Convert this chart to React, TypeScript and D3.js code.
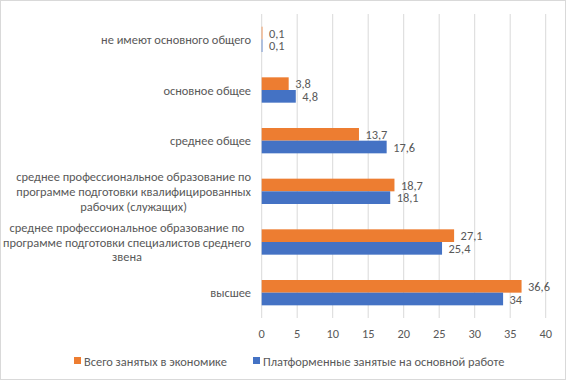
import React from "react";
import * as d3 from "d3";

const categories: string[][] = [
  ["не имеют основного общего"],
  ["основное общее"],
  ["среднее общее"],
  ["среднее профессиональное образование по", "программе подготовки квалифицированных", "рабочих (служащих)"],
  ["среднее профессиональное образование по", "программе подготовки специалистов среднего", "звена"],
  ["высшее"],
];
const seriesNames = ["Всего занятых в экономике", "Платформенные занятые на основной работе"];
const totalValues = [0.1, 3.8, 13.7, 18.7, 27.1, 36.6];
const platformValues = [0.1, 4.8, 17.6, 18.1, 25.4, 34];
const tickValues = [0, 5, 10, 15, 20, 25, 30, 35, 40];
const colors = ["#ED7D31", "#4472C4"];

const W = 566;
const H = 380;
const FONT = "Calibri, Carlito, 'Liberation Sans', Arial, sans-serif";
const TEXT = "#595959";
const FS = 12.4;

export default function App() {
  const left = 261.7;
  const right = 545.7;
  const top = 14;
  const bottom = 318;
  const x = d3.scaleLinear().domain([0, 40]).range([left, right]);
  const y = d3.scaleBand<number>().domain(d3.range(categories.length)).range([top, bottom]).paddingInner(0.5).paddingOuter(0.25);
  const sub = d3.scaleBand<number>().domain([0, 1]).range([0, y.bandwidth()]);
  const series = [totalValues, platformValues];
  const fmt = (v: number) => String(v).replace(".", ",");

  return (
    <div style={{ position: "fixed", left: 0, top: 0 }}>
      <svg width={W} height={H} style={{ display: "block", fontFamily: FONT }}>
        <rect x={0.5} y={0.5} width={W - 1} height={H - 1} fill="#fff" stroke="#d9d9d9" />
        {tickValues.map((t) => (
          <g key={t}>
            <line x1={x(t)} x2={x(t)} y1={top} y2={bottom} stroke="#d9d9d9" strokeWidth={1} />
            <text x={x(t)} y={333} textAnchor="middle" dominantBaseline="central" fontSize={FS} fill={TEXT}>
              {t}
            </text>
          </g>
        ))}
        {categories.map((lines, i) => {
          const cy = (y(i) as number) + y.bandwidth() / 2;
          return (
            <g key={i}>
              {series.map((vals, s) => (
                <g key={s}>
                  <rect
                    x={x(0)}
                    y={(y(i) as number) + (sub(s) as number)}
                    width={x(vals[i]) - x(0)}
                    height={sub.bandwidth()}
                    fill={colors[s]}
                  />
                  <text
                    x={x(vals[i]) + 6.5}
                    y={(y(i) as number) + (sub(s) as number) + sub.bandwidth() / 2}
                    dominantBaseline="central"
                    fontSize={FS}
                    fill={TEXT}
                  >
                    {fmt(vals[i])}
                  </text>
                </g>
              ))}
              <CatLabel lines={lines} cy={cy} lh={14.7} />
            </g>
          );
        })}
        <rect x={74} y={357} width={7} height={7} fill={colors[0]} />
        <text x={84} y={361} dominantBaseline="central" fontSize={FS} fill={TEXT}>
          {seriesNames[0]}
        </text>
        <rect x={253} y={357} width={7} height={7} fill={colors[1]} />
        <text x={263} y={361} dominantBaseline="central" fontSize={FS} fill={TEXT}>
          {seriesNames[1]}
        </text>
      </svg>
    </div>
  );
}

function CatLabel({ lines, cy, lh }: { lines: string[]; cy: number; lh: number }) {
  const ref = React.useRef<SVGGElement>(null);
  const [center, setCenter] = React.useState<number | null>(null);
  React.useLayoutEffect(() => {
    const measure = () => {
      if (!ref.current) return;
      const texts = Array.from(ref.current.querySelectorAll("text")) as SVGTextElement[];
      const maxW = Math.max(...texts.map((t) => t.getComputedTextLength()));
      setCenter(251 - maxW / 2);
    };
    measure();
    if ((document as any).fonts && (document as any).fonts.ready) {
      (document as any).fonts.ready.then(measure);
    }
  }, []);
  const n = lines.length;
  return (
    <g ref={ref}>
      {lines.map((l, k) => (
        <text
          key={k}
          x={center ?? 200}
          y={cy + (k - (n - 1) / 2) * lh}
          textAnchor="middle"
          dominantBaseline="central"
          fontSize={FS}
          fill={TEXT}
        >
          {l}
        </text>
      ))}
    </g>
  );
}
